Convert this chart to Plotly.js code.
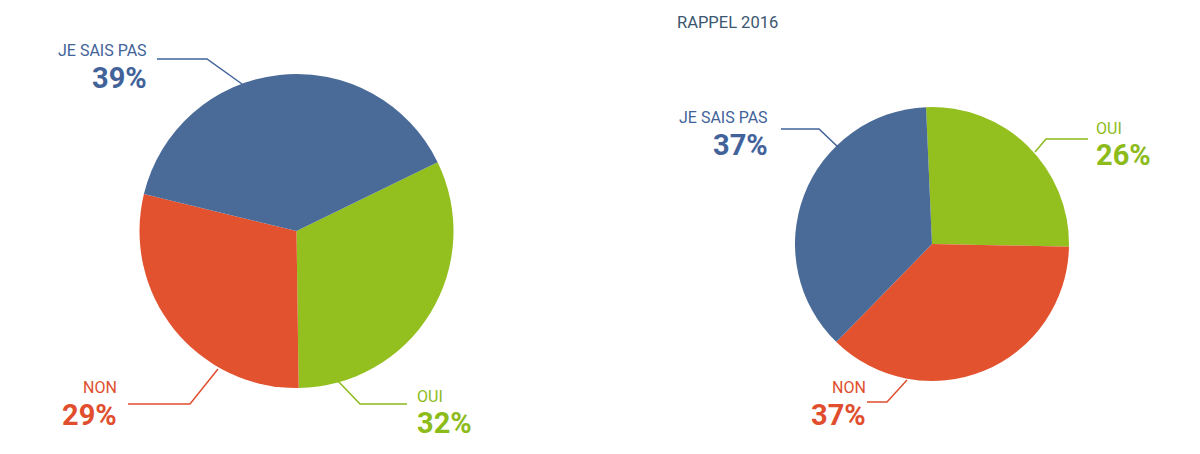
<!DOCTYPE html>
<html><head><meta charset="utf-8">
<script src="https://cdn.plot.ly/plotly-3.0.1.min.js"></script>
<style>html,body{margin:0;padding:0;background:#fff;}#chart{width:1200px;height:454px;}</style>
</head><body><div id="chart"></div>
<script>
// Data
const categories = ["OUI", "NON", "JE SAIS PAS"];
const values2019 = [32, 29, 39];
const values2016 = [26, 37, 37];
const chartTitle = "RAPPEL 2016";

const colors = ["#93c01f", "#e3522f", "#4a6a98"];
const textColors = {"OUI": "#8cbb1a", "NON": "#e04e2e", "JE SAIS PAS": "#42639a"};
const W = 1200, H = 454;
const px = x => x / W;
const py = y => 1 - y / H;

function pieTrace(vals, dom, rot) {
  return {
    type: 'pie', labels: categories, values: vals, sort: false, direction: 'clockwise',
    rotation: rot, textinfo: 'none', hoverinfo: 'label+percent', showlegend: false,
    marker: {colors: colors, line: {color: '#ffffff', width: 0}},
    domain: dom, automargin: false
  };
}

const traces = [
  pieTrace(values2019, {x: [px(139.5), px(453.5)], y: [py(388), py(74)]}, 64),
  pieTrace(values2016, {x: [px(795), px(1069)], y: [py(381), py(107)]}, -2.5)
];

// label placement (layout only)
const labelPos = [
  // [pie, category index, anchor, x, nameY, pctY]
  [0, 2, 'right', 149, 51, 78.5],
  [0, 1, 'right', 119, 387, 415],
  [0, 0, 'left', 415, 396.5, 422.5],
  [1, 2, 'right', 770, 117, 145],
  [1, 0, 'left', 1094, 128.5, 155],
  [1, 1, 'right', 868, 387.5, 415]
];
const leaders = [
  [[157, 59], [207, 59], [242, 84]],
  [[128, 404], [190, 404], [218, 369]],
  [[338, 381], [360, 404], [407, 404]],
  [[781, 129], [819, 129], [838, 147]],
  [[1088, 139], [1046, 139], [1035, 152]],
  [[867, 402], [887, 402], [907, 380]]
];

const annotations = [];
const shapes = [];
const datasets = [values2019, values2016];
labelPos.forEach((lp, i) => {
  const [pie, ci, anchor, x, ny, vy] = lp;
  const cat = categories[ci];
  const col = textColors[cat];
  annotations.push({xref: 'paper', yref: 'paper', x: px(x), y: py(ny), xanchor: anchor, yanchor: 'middle',
    text: cat, showarrow: false, font: {family: 'Roboto', size: 16, color: col}});
  annotations.push({xref: 'paper', yref: 'paper', x: px(x), y: py(vy), xanchor: anchor, yanchor: 'middle',
    text: '<b>' + datasets[pie][ci] + '%</b>', showarrow: false, font: {family: 'Roboto', size: 29, color: col}});
  const pts = leaders[i];
  const path = pts.map((p, k) => (k ? 'L' : 'M') + px(p[0]) + ',' + py(p[1])).join(' ');
  shapes.push({type: 'path', xref: 'paper', yref: 'paper', path: path, line: {color: col, width: 1.5}});
});
annotations.push({xref: 'paper', yref: 'paper', x: px(675), y: py(22.5), xanchor: 'left', yanchor: 'middle',
  text: chartTitle, showarrow: false, font: {family: 'Roboto', size: 16.5, color: '#3b5670'}});

const layout = {
  width: W, height: H, margin: {l: 0, r: 0, t: 0, b: 0},
  paper_bgcolor: '#ffffff', plot_bgcolor: '#ffffff',
  annotations: annotations, shapes: shapes, showlegend: false
};
Plotly.newPlot('chart', traces, layout, {displayModeBar: false, staticPlot: true});
</script></body></html>
